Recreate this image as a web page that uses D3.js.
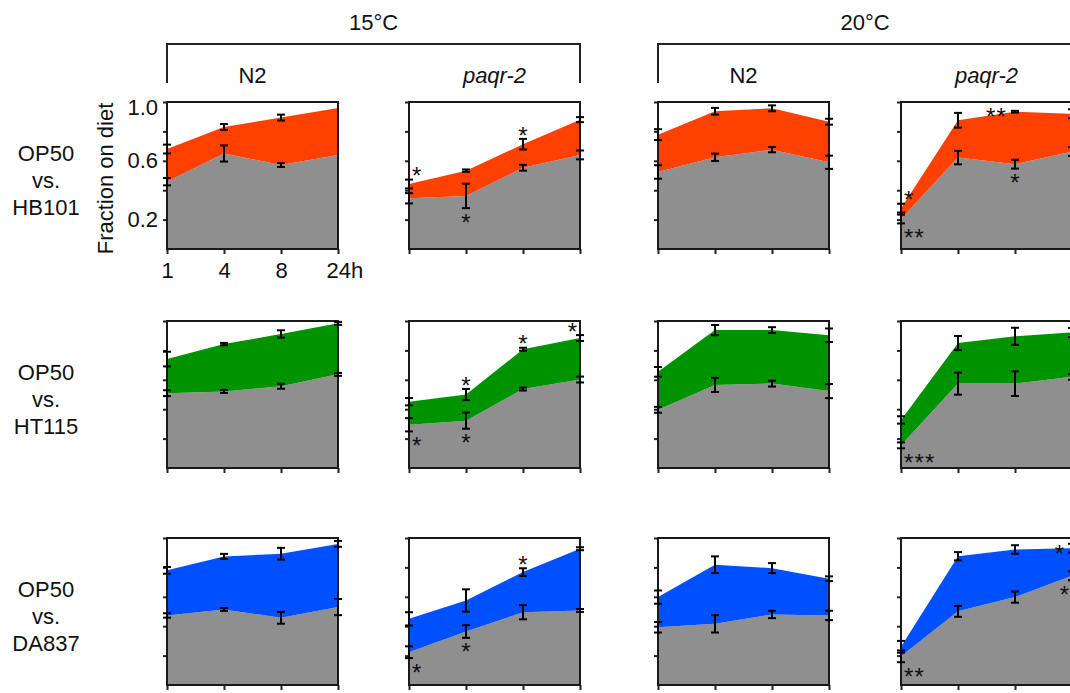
<!DOCTYPE html>
<html>
<head>
<meta charset="utf-8">
<script src="https://cdn.jsdelivr.net/npm/d3@7"></script>
<style>
  body { margin: 0; background: #fff; }
  text { font-family: "Liberation Sans", Arial, sans-serif; fill: #111; }
</style>
</head>
<body>
<div class="chart"></div>
<script>
// Time points and panel labels
var times = ["1", "4", "8", "24h"];
var temps = ["15°C", "20°C"];
var strains = ["N2", "paqr-2"];
var diets = ["HB101", "HT115", "DA837"];
var yTicks = [0.2, 0.4, 0.6, 0.8, 1.0];
var yLabels = [0.2, 0.6, 1.0];

// Fraction on diet, per column: 15°C N2, 15°C paqr-2, 20°C N2, 20°C paqr-2
var hb101Upper = [[0.68, 0.83, 0.894, 0.96], [0.442, 0.533, 0.713, 0.88], [0.778, 0.937, 0.957, 0.866], [0.278, 0.876, 0.934, 0.92]];
var hb101UpperErr = [[0.03, 0.02, 0.02, 0], [0.03, 0.008, 0.036, 0.017], [0.037, 0.023, 0.02, 0.02], [0.03, 0.05, 0.006, 0.03]];
var hb101Lower = [[0.458, 0.65, 0.571, 0.64], [0.345, 0.361, 0.553, 0.64], [0.524, 0.624, 0.676, 0.59], [0.204, 0.622, 0.577, 0.663]];
var hb101LowerErr = [[0.025, 0.055, 0.013, 0], [0.035, 0.083, 0.02, 0.03], [0.046, 0.025, 0.018, 0.045], [0.03, 0.046, 0.03, 0.03]];

var ht115Upper = [[0.741, 0.843, 0.912, 0.984], [0.451, 0.5, 0.808, 0.884], [0.654, 0.938, 0.938, 0.903], [0.327, 0.85, 0.896, 0.922]];
var ht115UpperErr = [[0.05, 0.008, 0.025, 0.01], [0.025, 0.038, 0.01, 0.02], [0.033, 0.035, 0.02, 0.046], [0.025, 0.048, 0.058, 0.03]];
var ht115Lower = [[0.509, 0.521, 0.556, 0.637], [0.294, 0.322, 0.537, 0.602], [0.396, 0.565, 0.574, 0.523], [0.154, 0.574, 0.574, 0.62]];
var ht115LowerErr = [[0.02, 0.01, 0.017, 0.01], [0.045, 0.055, 0.01, 0.02], [0.02, 0.048, 0.02, 0.048], [0.02, 0.075, 0.084, 0.02]];

var da837Upper = [[0.78, 0.875, 0.893, 0.96], [0.45, 0.575, 0.768, 0.927], [0.598, 0.818, 0.795, 0.723], [0.26, 0.876, 0.922, 0.931]];
var da837UpperErr = [[0.023, 0.017, 0.04, 0.02], [0.045, 0.076, 0.026, 0.01], [0.045, 0.057, 0.034, 0.016], [0.04, 0.028, 0.029, 0.03]];
var da837Lower = [[0.473, 0.514, 0.457, 0.53], [0.223, 0.364, 0.495, 0.507], [0.393, 0.416, 0.48, 0.473], [0.195, 0.501, 0.598, 0.743]];
var da837LowerErr = [[0.015, 0.01, 0.04, 0.055], [0.04, 0.043, 0.048, 0.01], [0.036, 0.059, 0.025, 0.032], [0.04, 0.037, 0.038, 0.03]];

// Significance marks: row, column, time index, which line, side
var stars = [
    {r: 0, c: 1, t: 0, line: "upper", side: "above", text: "*"},
    {r: 0, c: 1, t: 1, line: "lower", side: "below", text: "*"},
    {r: 0, c: 1, t: 2, line: "upper", side: "above", text: "*"},
    {r: 0, c: 3, t: 0, line: "upper", side: "above", text: "*"},
    {r: 0, c: 3, t: 0, line: "lower", side: "below", text: "**"},
    {r: 0, c: 3, t: 2, line: "upper", side: "left", text: "**"},
    {r: 0, c: 3, t: 2, line: "lower", side: "below", text: "*"},
    {r: 1, c: 1, t: 0, line: "lower", side: "below", text: "*"},
    {r: 1, c: 1, t: 1, line: "upper", side: "above", text: "*"},
    {r: 1, c: 1, t: 1, line: "lower", side: "below", text: "*"},
    {r: 1, c: 1, t: 2, line: "upper", side: "above", text: "*"},
    {r: 1, c: 1, t: 3, line: "upper", side: "above", text: "*"},
    {r: 1, c: 3, t: 0, line: "lower", side: "below", text: "***"},
    {r: 2, c: 1, t: 0, line: "lower", side: "below", text: "*"},
    {r: 2, c: 1, t: 1, line: "lower", side: "below", text: "*"},
    {r: 2, c: 1, t: 2, line: "upper", side: "above", text: "*"},
    {r: 2, c: 3, t: 0, line: "lower", side: "below", text: "**"},
    {r: 2, c: 3, t: 3, line: "upper", side: "left", text: "*"},
    {r: 2, c: 3, t: 3, line: "lower", side: "below", text: "*"}
];

var rowData = [
    {upper: hb101Upper, upperErr: hb101UpperErr, lower: hb101Lower, lowerErr: hb101LowerErr, color: "#ff4000"},
    {upper: ht115Upper, upperErr: ht115UpperErr, lower: ht115Lower, lowerErr: ht115LowerErr, color: "#009300"},
    {upper: da837Upper, upperErr: da837UpperErr, lower: da837Lower, lowerErr: da837LowerErr, color: "#0050ff"}
];

// Layout
var svgWidth = 1070, svgHeight = 693;
var colLeft = [167, 409, 658, 901];
var rowTop = [102, 321, 538];
var panelW = 171, panelH = 147;
var gray = "#8f8f8f";
var starSize = 24;

var svg = d3.select(".chart").append("svg")
    .attr("width", svgWidth)
    .attr("height", svgHeight);

var x = d3.scalePoint().domain(times).range([0, panelW]);
var y = d3.scaleLinear().domain([0, 1]).range([panelH, 0]);

// Temperature headers with brackets
temps.forEach(function(t, i) {
    var x0 = colLeft[i * 2], x1 = colLeft[i * 2 + 1] + panelW;
    svg.append("path")
        .attr("d", `M${x0},83V44H${x1}V83`)
        .attr("fill", "none")
        .attr("stroke", "#222")
        .attr("stroke-width", 2);
    svg.append("text")
        .attr("x", (x0 + x1) / 2)
        .attr("y", 30)
        .attr("text-anchor", "middle")
        .style("font-size", "22px")
        .text(t);
});

// Strain labels
colLeft.forEach(function(cx, c) {
    var s = strains[c % 2];
    svg.append("text")
        .attr("x", cx + panelW / 2)
        .attr("y", 83)
        .attr("text-anchor", "middle")
        .style("font-size", "22px")
        .style("font-style", s === "N2" ? "normal" : "italic")
        .text(s);
});

// Row labels
diets.forEach(function(d, r) {
    var label = svg.append("text")
        .attr("text-anchor", "middle")
        .style("font-size", "22px");
    ["OP50", "vs.", d].forEach(function(line, k) {
        label.append("tspan")
            .attr("x", 46)
            .attr("y", rowTop[r] + 86 + (k - 1) * 27)
            .text(line);
    });
});

var area = d3.area()
    .x(d => x(d.t))
    .y0(d => y(d.lo))
    .y1(d => y(d.hi));

rowData.forEach(function(rd, r) {
    colLeft.forEach(function(cx, c) {
        var g = svg.append("g")
            .attr("transform", `translate(${cx}, ${rowTop[r]})`);

        var pts = times.map(function(t, i) {
            return {t: t, i: i, up: rd.upper[c][i], upErr: rd.upperErr[c][i],
                    low: rd.lower[c][i], lowErr: rd.lowerErr[c][i]};
        });

        // gray area under the lower line
        g.append("path")
            .datum(pts.map(p => ({t: p.t, lo: 0, hi: p.low})))
            .attr("fill", gray)
            .attr("d", area);

        // colored band between lower and upper
        g.append("path")
            .datum(pts.map(p => ({t: p.t, lo: p.low, hi: p.up})))
            .attr("fill", rd.color)
            .attr("d", area);

        // axes
        var first = (r === 0 && c === 0);
        var leftAxis = d3.axisLeft(y)
            .tickValues(yTicks)
            .tickSize(4)
            .tickPadding(5)
            .tickFormat(d => first && yLabels.indexOf(d) >= 0 ? d.toFixed(1) : "");
        var yAxisG = g.append("g").call(leftAxis);
        yAxisG.select(".domain").remove();
        yAxisG.selectAll("line").attr("stroke", "#222").attr("stroke-width", 2);
        yAxisG.selectAll("text")
            .style("font-size", "22px")
            .attr("fill", "#111");
        // top label sits a little lower in the original
        yAxisG.selectAll("text").filter(d => d === 1.0).attr("y", 5);

        var bottomAxis = d3.axisBottom(x)
            .tickSize(5)
            .tickPadding(8)
            .tickFormat(d => first ? d : "");
        var xAxisG = g.append("g")
            .attr("transform", `translate(0, ${panelH})`)
            .call(bottomAxis);
        xAxisG.select(".domain").remove();
        xAxisG.selectAll("line").attr("stroke", "#222").attr("stroke-width", 2);
        xAxisG.selectAll("text")
            .style("font-size", "22px")
            .attr("fill", "#111");
        if (first) {
            // keep "24" under its tick, "h" trailing
            xAxisG.selectAll("text")
                .filter(d => d === "24h")
                .attr("text-anchor", "start")
                .attr("x", -12);
        }

        // frame
        g.append("rect")
            .attr("width", panelW)
            .attr("height", panelH)
            .attr("fill", "none")
            .attr("stroke", "#1a1a1a")
            .attr("stroke-width", 2);

        // error bars
        var bars = [];
        pts.forEach(function(p) {
            if (p.upErr > 0) bars.push({t: p.t, v: p.up, e: p.upErr});
            if (p.lowErr > 0) bars.push({t: p.t, v: p.low, e: p.lowErr});
        });
        var eb = g.selectAll(".err")
            .data(bars)
            .enter()
            .append("g")
            .attr("class", "err")
            .attr("stroke", "#000")
            .attr("stroke-width", 2);
        eb.append("line")
            .attr("x1", d => x(d.t)).attr("x2", d => x(d.t))
            .attr("y1", d => y(d.v - d.e)).attr("y2", d => y(d.v + d.e));
        eb.append("line")
            .attr("x1", d => x(d.t) - 4).attr("x2", d => x(d.t) + 4)
            .attr("y1", d => y(d.v + d.e)).attr("y2", d => y(d.v + d.e));
        eb.append("line")
            .attr("x1", d => x(d.t) - 4).attr("x2", d => x(d.t) + 4)
            .attr("y1", d => y(d.v - d.e)).attr("y2", d => y(d.v - d.e));

        // significance stars
        stars.filter(s => s.r === r && s.c === c).forEach(function(s) {
            var p = pts[s.t];
            var v = s.line === "upper" ? p.up : p.low;
            var e = s.line === "upper" ? p.upErr : p.lowErr;
            var txt = g.append("text")
                .attr("text-anchor", "middle")
                .style("font-size", starSize + "px")
                .style("letter-spacing", s.text.length > 1 ? "1.2px" : "0px")
                .text(s.text);
            var w = txt.node().getComputedTextLength();
            var cxp = x(times[s.t]);
            var cyp;
            if (s.side === "above") cyp = y(v + e) - 9;
            else if (s.side === "below") cyp = y(v - e) + 9;
            else { cyp = y(v); cxp -= w / 2 + 8; }
            if (s.side !== "left") {
                if (s.t === 0) cxp += w / 2 + 3;
                if (s.t === times.length - 1) cxp -= w / 2 + 3;
            }
            txt.attr("x", cxp).attr("y", cyp + starSize * 0.57);
        });
    });
});

// y axis title
svg.append("text")
    .attr("transform", `translate(113, ${rowTop[0] + panelH / 2 + 3}) rotate(-90)`)
    .attr("text-anchor", "middle")
    .style("font-size", "22px")
    .text("Fraction on diet");
</script>
</body>
</html>
